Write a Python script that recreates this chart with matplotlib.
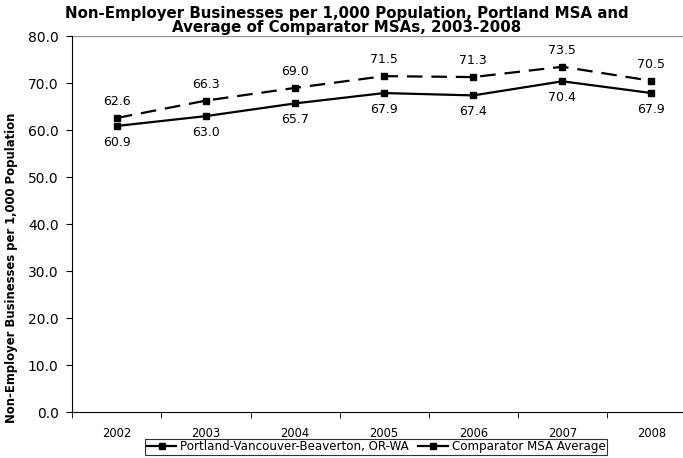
import numpy as np
import matplotlib
matplotlib.use("Agg")
from matplotlib import pyplot as plt
from matplotlib.ticker import FormatStrFormatter, FixedLocator

years = ["2002", "2003", "2004", "2005", "2006", "2007", "2008"]
portland = [60.9, 63.0, 65.7, 67.9, 67.4, 70.4, 67.9]
comparator = [62.6, 66.3, 69.0, 71.5, 71.3, 73.5, 70.5]

plt.rcParams["font.family"] = ["DejaVu Sans"]

fig = plt.figure(figsize=(6.83, 4.58), dpi=100)
# plot area runs past the right edge, like the cropped original
ax = fig.add_axes([0.106, 0.100, 0.913, 0.821])

x = np.arange(len(years))
ax.plot(x, portland, color="black", lw=1.6, marker="s", ms=5,
        label="Portland-Vancouver-Beaverton, OR-WA")
ax.plot(x, comparator, color="black", lw=1.6, ls=(0, (7, 4)), marker="s", ms=4.5,
        label="Comparator MSA Average")

for i in x:
    ax.annotate(f"{portland[i]:.1f}", (i, portland[i]), xytext=(0, -7),
                textcoords="offset points", ha="center", va="top", fontsize=9)
    ax.annotate(f"{comparator[i]:.1f}", (i, comparator[i]), xytext=(0, 7),
                textcoords="offset points", ha="center", va="bottom", fontsize=9)

ax.set_xlim(-0.5, len(years) - 0.5)
ax.set_ylim(0, 80)
ax.set_yticks(np.arange(0, 81, 10))
ax.yaxis.set_major_formatter(FormatStrFormatter("%.1f"))
ax.set_xticks(x)
ax.set_xticklabels(years)
ax.xaxis.set_minor_locator(FixedLocator(np.arange(-0.5, len(years), 1)))
ax.tick_params(axis="x", which="major", length=0, pad=11, labelsize=8.3)
ax.tick_params(axis="x", which="minor", length=4, direction="out")
ax.tick_params(axis="y", length=4, labelsize=10, pad=6)

for s in ["top", "right"]:
    ax.spines[s].set_visible(False)
ax.axhline(80, color="#999999", lw=1)

fig.text(0.017, 0.415, "Non-Employer Businesses per 1,000 Population",
         rotation=90, ha="center", va="center", fontsize=8.4, fontweight="bold")
fig.text(0.508, 0.987, "Non-Employer Businesses per 1,000 Population, Portland MSA and\n"
         "Average of Comparator MSAs, 2003-2008", ha="center", va="top",
         fontsize=10.8, fontweight="bold", linespacing=0.95)

leg = ax.legend(loc="upper center", bbox_to_anchor=(0.487, -0.07), ncol=2,
                fontsize=8.6, frameon=True, fancybox=False, edgecolor="black",
                handlelength=2.5, borderpad=0.15, columnspacing=0.8,
                handletextpad=0.3, borderaxespad=0)
leg.get_frame().set_linewidth(0.8)
for h in leg.get_lines():
    h.set_linestyle("-")

fig.savefig("out.png", dpi=100)
